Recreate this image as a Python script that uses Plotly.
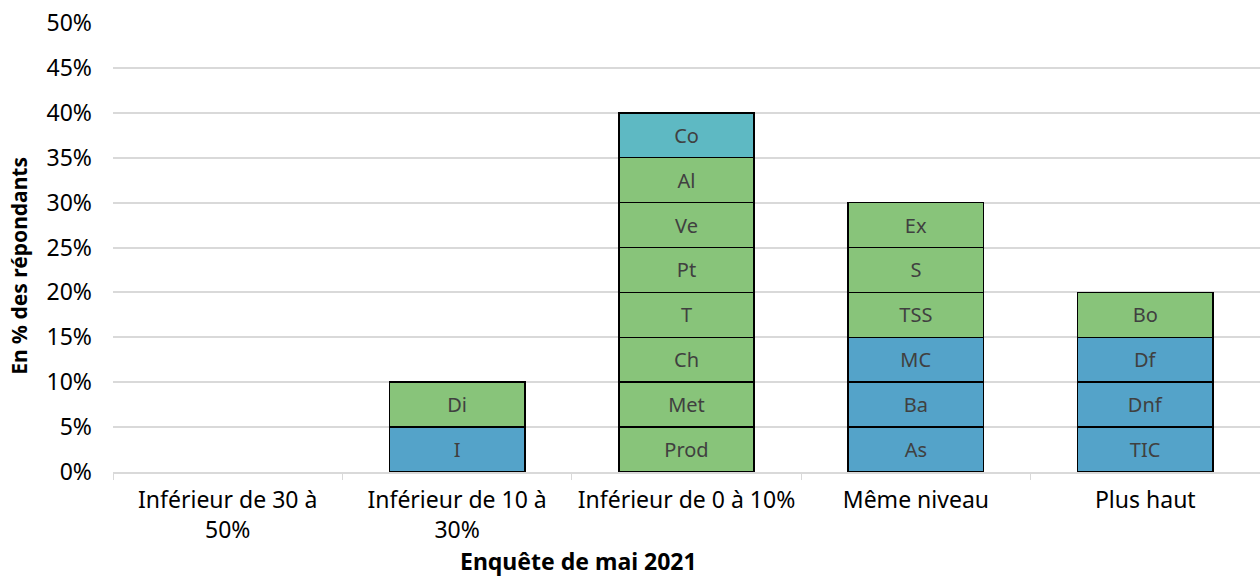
import plotly.graph_objects as go

FONT = "Noto Sans, Open Sans, sans-serif"

categories = ["Inférieur de 30 à<br>50%", "Inférieur de 10 à<br>30%", "Inférieur de 0 à 10%",
              "Même niveau", "Plus haut"]

# one 5% segment per sector, stacked bottom -> top within its category
seg_names = ["I", "Di",
             "Prod", "Met", "Ch", "T", "Pt", "Ve", "Al", "Co",
             "As", "Ba", "MC", "TSS", "S", "Ex",
             "TIC", "Dnf", "Df", "Bo"]
seg_cat = [1, 1,
           2, 2, 2, 2, 2, 2, 2, 2,
           3, 3, 3, 3, 3, 3,
           4, 4, 4, 4]
seg_value = [5, 5,
             5, 5, 5, 5, 5, 5, 5, 5,
             5, 5, 5, 5, 5, 5,
             5, 5, 5, 5]
seg_group = ["b", "g",
             "g", "g", "g", "g", "g", "g", "g", "t",
             "b", "b", "b", "g", "g", "g",
             "b", "b", "b", "g"]

COLORS = {"g": "#88C47A", "b": "#54A3C9", "t": "#5EB9C3"}

fig = go.Figure()
# empty base so every category (incl. the first, with no answers) is on the axis
fig.add_trace(go.Bar(x=categories, y=[0] * len(categories), marker_line_width=0,
                     hoverinfo="skip", showlegend=False))
for name, c, v, g in zip(seg_names, seg_cat, seg_value, seg_group):
    fig.add_trace(go.Bar(
        x=[categories[c]], y=[v], name=name,
        text=[name], textposition="inside", insidetextanchor="middle",
        textangle=0, constraintext="none",
        textfont=dict(family=FONT, size=20, color="#404040"),
        marker=dict(color=COLORS[g], line=dict(color="black", width=1.5)),
        width=0.59, showlegend=False,
    ))

fig.update_layout(
    barmode="stack",
    width=1260, height=576,
    margin=dict(l=113, r=0, t=23, b=104, autoexpand=False),
    plot_bgcolor="white", paper_bgcolor="white",
    font=dict(family=FONT, color="#000000"),
)
fig.update_xaxes(
    categoryorder="array", categoryarray=categories, range=[-0.5, 4.5],
    tickfont=dict(size=23, color="#000000"),
    showline=True, linecolor="#d9d9d9", linewidth=1.5,
    ticks="outside", tickson="boundaries", ticklen=6, tickcolor="#d9d9d9",
    ticklabelstandoff=7,
)
fig.update_yaxes(
    range=[0, 50], dtick=5, ticksuffix="%",
    tickfont=dict(size=23, color="#000000"),
    showgrid=True, gridcolor="#d9d9d9", gridwidth=1.5, zeroline=False,
    ticklabelstandoff=20,
)

# axis titles sit off-centre in the original, so place them as annotations
fig.add_annotation(text="<b>Enquête de mai 2021</b>", xref="paper", yref="paper",
                   x=0.406, y=-0.198, xanchor="center", yanchor="middle",
                   showarrow=False, font=dict(size=23))
fig.add_annotation(text="<b>En % des répondants</b>", xref="paper", yref="paper",
                   x=-0.082, y=0.459, xanchor="center", yanchor="middle",
                   textangle=-90, showarrow=False, font=dict(size=21))

fig.write_html("out.html", config={"displayModeBar": False},
               post_script="document.body.style.margin='0';")
